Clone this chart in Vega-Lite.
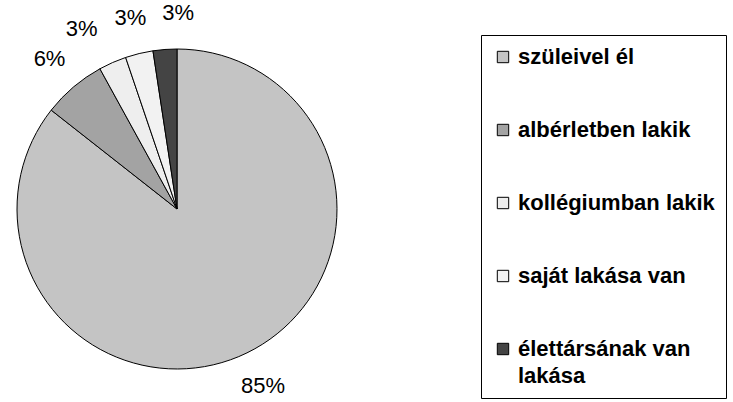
{
  "$schema": "https://vega.github.io/schema/vega-lite/v6.json",
  "width": 354,
  "height": 386,
  "autosize": "none",
  "padding": {"left": 0, "top": 16, "right": 379, "bottom": 0},
  "background": "white",
  "config": {"view": {"stroke": null}, "font": "Liberation Sans"},
  "data": {
    "values": [
      {"cat": "szüleivel él", "value": 85.6, "label": "85%", "ord": 1},
      {"cat": "albérletben lakik", "value": 6.4, "label": "6%", "ord": 2},
      {"cat": "kollégiumban lakik", "value": 2.8, "label": "3%", "ord": 3},
      {"cat": "saját lakása van", "value": 2.8, "label": "3%", "ord": 4},
      {"cat": "élettársának van lakása", "value": 2.4, "label": "3%", "ord": 5}
    ]
  },
  "encoding": {
    "theta": {"field": "value", "type": "quantitative", "stack": true},
    "order": {"field": "ord", "type": "quantitative"}
  },
  "layer": [
    {
      "mark": {"type": "arc", "outerRadius": 160, "stroke": "black", "strokeWidth": 1},
      "encoding": {
        "color": {
          "field": "cat",
          "type": "nominal",
          "sort": null,
          "scale": {
            "domain": ["szüleivel él", "albérletben lakik", "kollégiumban lakik", "saját lakása van", "élettársának van lakása"],
            "range": ["#c4c4c4", "#a3a3a3", "#eeeeee", "#f2f2f2", "#444444"]
          },
          "legend": {
            "orient": "none",
            "legendX": 481,
            "legendY": 19,
            "title": null,
            "padding": 11,
            "strokeColor": "black",
            "fillColor": "white",
            "symbolType": "square",
            "symbolSize": 130,
            "symbolStrokeColor": "black",
            "symbolStrokeWidth": 1,
            "labelFont": "Liberation Sans",
            "labelFontSize": 22,
            "labelFontWeight": "bold",
            "labelColor": "black",
            "labelOffset": 4,
            "labelLimit": 400,
            "rowPadding": 51,
            "labelExpr": "datum.label == 'élettársának van lakása' ? ['élettársának van', 'lakása'] : datum.label",
            "labelBaseline": "middle",
            "encode": {"labels": {"update": {"lineHeight": {"value": 27}}}}
          }
        }
      }
    },
    {
      "mark": {
        "type": "text",
        "radius": 197,
        "fontSize": 22,
        "font": "Liberation Sans",
        "color": "black",
        "align": {"expr": "datum.ord == 3 ? 'right' : datum.ord == 5 ? 'left' : 'center'"}
      },
      "encoding": {"text": {"field": "label", "type": "nominal"}}
    }
  ]
}
